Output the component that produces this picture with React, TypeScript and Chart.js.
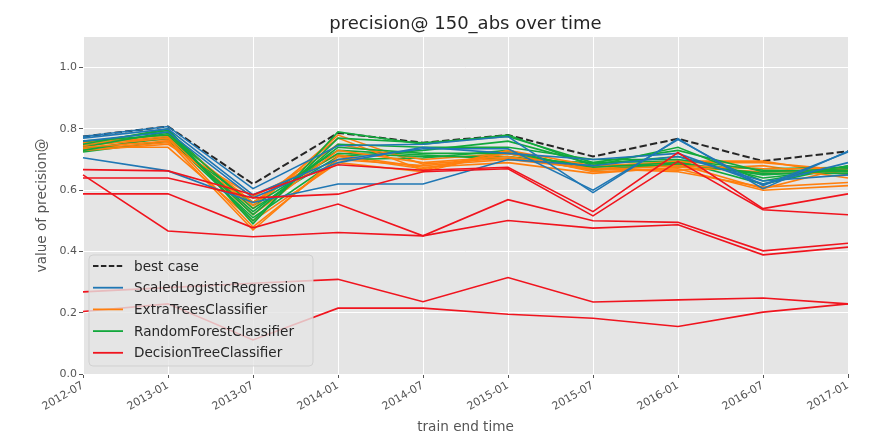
import React, { useEffect, useRef } from "react";
import { Chart, registerables } from "chart.js";

Chart.register(...registerables);

const trainEndTimes = [
  "2012-07", "2013-01", "2013-07", "2014-01", "2014-07",
  "2015-01", "2015-07", "2016-01", "2016-07", "2017-01",
];

const bestCase = [0.775, 0.808, 0.62, 0.787, 0.755, 0.78, 0.71, 0.768, 0.695, 0.727];

const scaledLogisticRegression = [
  [0.775, 0.808, 0.605, 0.745, 0.75, 0.775, 0.592, 0.768, 0.605, 0.727],
  [0.77, 0.8, 0.585, 0.7, 0.735, 0.735, 0.6, 0.765, 0.615, 0.725],
  [0.76, 0.79, 0.575, 0.69, 0.74, 0.72, 0.7, 0.72, 0.62, 0.69],
  [0.706, 0.663, 0.56, 0.62, 0.62, 0.7, 0.68, 0.71, 0.63, 0.65],
];

const extraTrees = [
  [0.74, 0.76, 0.47, 0.71, 0.67, 0.72, 0.66, 0.67, 0.6, 0.615],
  [0.745, 0.77, 0.48, 0.7, 0.68, 0.7, 0.67, 0.66, 0.61, 0.625],
  [0.75, 0.775, 0.52, 0.73, 0.69, 0.71, 0.665, 0.68, 0.67, 0.67],
  [0.735, 0.755, 0.55, 0.77, 0.665, 0.73, 0.68, 0.69, 0.69, 0.665],
  [0.755, 0.78, 0.56, 0.75, 0.7, 0.72, 0.67, 0.665, 0.68, 0.64],
  [0.73, 0.75, 0.58, 0.715, 0.675, 0.69, 0.655, 0.675, 0.66, 0.66],
  [0.76, 0.765, 0.54, 0.78, 0.685, 0.705, 0.675, 0.695, 0.695, 0.65],
  [0.74, 0.74, 0.5, 0.69, 0.66, 0.725, 0.67, 0.685, 0.605, 0.675],
];

const randomForest = [
  [0.75, 0.8, 0.49, 0.79, 0.75, 0.78, 0.68, 0.74, 0.63, 0.68],
  [0.74, 0.79, 0.5, 0.77, 0.755, 0.775, 0.69, 0.73, 0.66, 0.67],
  [0.76, 0.78, 0.52, 0.75, 0.74, 0.74, 0.7, 0.7, 0.665, 0.66],
  [0.73, 0.775, 0.53, 0.74, 0.72, 0.72, 0.675, 0.69, 0.65, 0.665],
  [0.745, 0.785, 0.55, 0.72, 0.71, 0.71, 0.68, 0.68, 0.67, 0.675],
  [0.735, 0.77, 0.51, 0.7, 0.705, 0.73, 0.665, 0.685, 0.655, 0.655],
  [0.755, 0.795, 0.54, 0.71, 0.73, 0.76, 0.685, 0.71, 0.64, 0.67],
  [0.725, 0.76, 0.56, 0.73, 0.715, 0.7, 0.69, 0.695, 0.62, 0.68],
];

const decisionTree = [
  [0.667, 0.663, 0.585, 0.683, 0.665, 0.675, 0.53, 0.723, 0.54, 0.588],
  [0.64, 0.64, 0.575, 0.587, 0.66, 0.67, 0.516, 0.694, 0.536, 0.52],
  [0.588, 0.588, 0.477, 0.555, 0.451, 0.569, 0.5, 0.495, 0.402, 0.427],
  [0.65, 0.467, 0.448, 0.462, 0.451, 0.501, 0.476, 0.487, 0.389, 0.414],
  [0.268, 0.282, 0.296, 0.309, 0.236, 0.315, 0.235, 0.242, 0.248, 0.229],
  [0.204, 0.229, 0.111, 0.215, 0.215, 0.195, 0.182, 0.155, 0.202, 0.229],
];

const BLACK = "#262626";
const BLUE = "#1f77b4";
const ORANGE = "#ff7f0e";
const GREEN = "#12a83c";
const RED = "#f0141e";
const FONT = "'DejaVu Sans', sans-serif";

const legendItems = [
  { label: "best case", color: BLACK, dash: [5.5, 2.4] },
  { label: "ScaledLogisticRegression", color: BLUE, dash: [] as number[] },
  { label: "ExtraTreesClassifier", color: ORANGE, dash: [] as number[] },
  { label: "RandomForestClassifier", color: GREEN, dash: [] as number[] },
  { label: "DecisionTreeClassifier", color: RED, dash: [] as number[] },
];

function lineSet(rows: number[][], color: string, name: string) {
  return rows.map((r, i) => ({
    label: `${name} ${i + 1}`,
    data: r,
    borderColor: color,
    backgroundColor: color,
    borderWidth: 1.6,
    pointRadius: 0,
    tension: 0,
    fill: false,
  }));
}

function interleave<T>(a: T[], b: T[]): T[] {
  const out: T[] = [];
  const n = Math.max(a.length, b.length);
  for (let i = 0; i < n; i++) {
    if (i < a.length) out.push(a[i]);
    if (i < b.length) out.push(b[i]);
  }
  return out;
}

const decorPlugin = {
  id: "decor",
  beforeDraw(chart: any) {
    const { ctx, chartArea } = chart;
    ctx.save();
    ctx.fillStyle = "#ffffff";
    ctx.fillRect(0, 0, chart.width, chart.height);
    ctx.fillStyle = "#e5e5e5";
    ctx.fillRect(chartArea.left, chartArea.top, chartArea.right - chartArea.left, chartArea.bottom - chartArea.top);
    ctx.restore();
  },
  afterDatasetsDraw(chart: any) {
    const { ctx } = chart;
    ctx.save();
    // legend box
    const bx = 89, by = 255, bw = 224, bh = 111, r = 4;
    ctx.beginPath();
    ctx.moveTo(bx + r, by);
    ctx.lineTo(bx + bw - r, by);
    ctx.arcTo(bx + bw, by, bx + bw, by + r, r);
    ctx.lineTo(bx + bw, by + bh - r);
    ctx.arcTo(bx + bw, by + bh, bx + bw - r, by + bh, r);
    ctx.lineTo(bx + r, by + bh);
    ctx.arcTo(bx, by + bh, bx, by + bh - r, r);
    ctx.lineTo(bx, by + r);
    ctx.arcTo(bx, by, bx + r, by, r);
    ctx.closePath();
    ctx.fillStyle = "rgba(229,229,229,0.8)";
    ctx.fill();
    ctx.strokeStyle = "rgba(204,204,204,0.8)";
    ctx.lineWidth = 1;
    ctx.stroke();
    legendItems.forEach((it, i) => {
      const y = 266 + i * 21.7;
      ctx.beginPath();
      ctx.setLineDash(it.dash);
      ctx.strokeStyle = it.color;
      ctx.lineWidth = 1.8;
      ctx.moveTo(93, y);
      ctx.lineTo(123, y);
      ctx.stroke();
      ctx.setLineDash([]);
      ctx.fillStyle = BLACK;
      ctx.font = `13.6px ${FONT}`;
      ctx.textAlign = "left";
      ctx.textBaseline = "middle";
      ctx.fillText(it.label, 134, y + 1);
    });
    ctx.restore();
  },
  afterDraw(chart: any) {
    const { ctx, chartArea } = chart;
    const cx = (chartArea.left + chartArea.right) / 2;
    const cy = (chartArea.top + chartArea.bottom) / 2;
    ctx.save();
    ctx.textAlign = "center";
    ctx.textBaseline = "middle";
    ctx.fillStyle = BLACK;
    ctx.font = `18px ${FONT}`;
    ctx.fillText("precision@ 150_abs over time", cx, 24);
    ctx.fillStyle = "#555555";
    ctx.font = `13.6px ${FONT}`;
    ctx.fillText("train end time", cx, 427);
    ctx.translate(42, cy);
    ctx.rotate(-Math.PI / 2);
    ctx.fillText("value of precision@", 0, 0);
    ctx.restore();
  },
};

export default function App() {
  const ref = useRef<HTMLCanvasElement | null>(null);

  useEffect(() => {
    if (!ref.current) return;
    const datasets: any[] = [
      ...lineSet(decisionTree, RED, "DecisionTreeClassifier"),
      ...lineSet(scaledLogisticRegression, BLUE, "ScaledLogisticRegression"),
      ...interleave(
        lineSet(randomForest, GREEN, "RandomForestClassifier"),
        lineSet(extraTrees, ORANGE, "ExtraTreesClassifier")
      ),
      {
        label: "best case",
        data: bestCase,
        borderColor: BLACK,
        borderWidth: 2,
        borderDash: [7.4, 3.2],
        pointRadius: 0,
        tension: 0,
        fill: false,
      },
    ];
    const chart = new Chart(ref.current, {
      type: "line",
      data: { labels: trainEndTimes, datasets },
      options: {
        animation: false,
        responsive: false,
        layout: { padding: { top: 37, right: 22, left: 0, bottom: 0 } },
        plugins: {
          legend: { display: false },
          title: { display: false },
          tooltip: { enabled: false },
        },
        scales: {
          x: {
            type: "category",
            offset: false,
            grid: { color: "#ffffff", lineWidth: 1, tickColor: "#555555", tickLength: 4 },
            border: { display: false },
            ticks: {
              color: "#555555",
              font: { family: FONT, size: 11 },
              minRotation: 30,
              maxRotation: 30,
              autoSkip: false,
              padding: 1,
            },
            afterFit(scale: any) {
              scale.height = 71;
            },
          },
          y: {
            type: "linear",
            min: 0,
            max: 1.1,
            grid: { color: "#ffffff", lineWidth: 1, tickColor: "#555555", tickLength: 4 },
            border: { display: false },
            ticks: {
              stepSize: 0.2,
              color: "#555555",
              font: { family: FONT, size: 11 },
              padding: 2,
              callback: (v: any) => Number(v).toFixed(1),
            },
            afterBuildTicks(scale: any) {
              scale.ticks = scale.ticks.filter((t: any) => t.value <= 1.0001);
            },
            afterFit(scale: any) {
              scale.width = 83;
            },
          },
        },
      },
      plugins: [decorPlugin],
    });
    return () => chart.destroy();
  }, []);

  return (
    <div style={{ position: "fixed", left: 0, top: 0, width: 870, height: 445, background: "#fff" }}>
      <canvas ref={ref} width={870} height={445} style={{ width: 870, height: 445, display: "block" }} />
    </div>
  );
}
